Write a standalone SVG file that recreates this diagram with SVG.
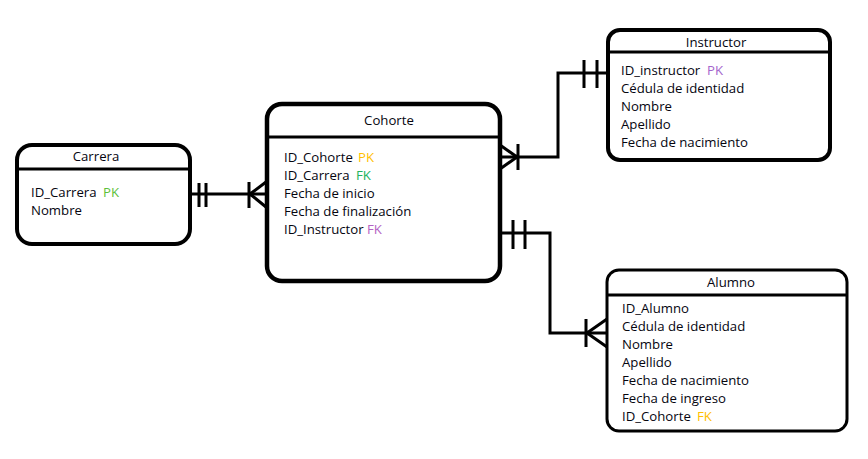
<svg xmlns="http://www.w3.org/2000/svg" width="868" height="459" viewBox="0 0 868 459">
  <style>
    .box { fill: #ffffff; stroke: #000000; }
    .sep { stroke: #000000; stroke-width: 3; }
    .wire { fill: none; stroke: #000000; stroke-width: 3; }
    text { font-family: "Open Sans", "Noto Sans", sans-serif; font-size: 13.2px; fill: #05050f; }
    .title { text-anchor: middle; }
    .pk-gold { fill: #ffc000; }
    .pk-green { fill: #5cbf3a; }
    .fk-green { fill: #22b35e; }
    .fk-purple { fill: #b462c4; }
    .pk-purple { fill: #a466cc; }
  </style>
  <rect width="868" height="459" fill="#ffffff"/>

  <!-- relationship lines with crow's-foot notation -->
  <g id="connectors">
    <!-- Carrera (one) to Cohorte (many) -->
    <path class="wire" d="M190 194 H265"/>
    <path class="wire" d="M199 183 V207 M206 183 V207"/>
    <path class="wire" d="M249 182 V208 M250 194 L266 182 M250 194 L266 207"/>
    <!-- Cohorte (many) to Instructor (one) -->
    <path class="wire" d="M500 157 H558 V73 H607"/>
    <path class="wire" d="M584 60 V88 M597 60 V88"/>
    <path class="wire" d="M518 144 V170 M517 157 L500 145 M517 157 L500 169"/>
    <!-- Cohorte (one) to Alumno (many) -->
    <path class="wire" d="M500 233 H550 V333 H607"/>
    <path class="wire" d="M513 220 V249 M525 220 V249"/>
    <path class="wire" d="M586 319 V347 M587 333 L607 319 M587 333 L607 347"/>
  </g>

  <g id="carrera">
    <rect class="box" x="17" y="145" width="173" height="99" rx="15" stroke-width="4"/>
    <line class="sep" x1="17" y1="169" x2="190" y2="169"/>
    <text class="title" x="96" y="161">Carrera</text>
    <text x="31" y="197">ID_Carrera</text>
    <text class="pk-green" x="103" y="197">PK</text>
    <text x="31" y="215">Nombre</text>
  </g>

  <g id="cohorte">
    <rect class="box" x="267" y="104" width="233" height="177" rx="15" stroke-width="4.5"/>
    <line class="sep" x1="267" y1="137" x2="500" y2="137"/>
    <text class="title" x="389" y="125">Cohorte</text>
    <text x="284" y="162">ID_Cohorte</text>
    <text class="pk-gold" x="358" y="162">PK</text>
    <text x="284" y="180">ID_Carrera</text>
    <text class="fk-green" x="356" y="180">FK</text>
    <text x="284" y="198">Fecha de inicio</text>
    <text x="284" y="216">Fecha de finalización</text>
    <text x="284" y="234">ID_Instructor</text>
    <text class="fk-purple" x="367" y="234">FK</text>
  </g>

  <g id="instructor">
    <rect class="box" x="608" y="30" width="222" height="130" rx="12" stroke-width="4"/>
    <line class="sep" x1="608" y1="52" x2="830" y2="52"/>
    <text class="title" x="716" y="47">Instructor</text>
    <text x="621" y="75">ID_instructor</text>
    <text class="pk-purple" x="707" y="75">PK</text>
    <text x="621" y="93">Cédula de identidad</text>
    <text x="621" y="111">Nombre</text>
    <text x="621" y="129">Apellido</text>
    <text x="621" y="147">Fecha de nacimiento</text>
  </g>

  <g id="alumno">
    <rect class="box" x="607" y="270" width="240" height="161" rx="12" stroke-width="3"/>
    <line class="sep" x1="607" y1="295" x2="847" y2="295"/>
    <text class="title" x="731" y="287">Alumno</text>
    <text x="622" y="313">ID_Alumno</text>
    <text x="622" y="331">Cédula de identidad</text>
    <text x="622" y="349">Nombre</text>
    <text x="622" y="367">Apellido</text>
    <text x="622" y="385">Fecha de nacimiento</text>
    <text x="622" y="403">Fecha de ingreso</text>
    <text x="622" y="421">ID_Cohorte</text>
    <text class="pk-gold" x="697" y="421">FK</text>
  </g>
</svg>
